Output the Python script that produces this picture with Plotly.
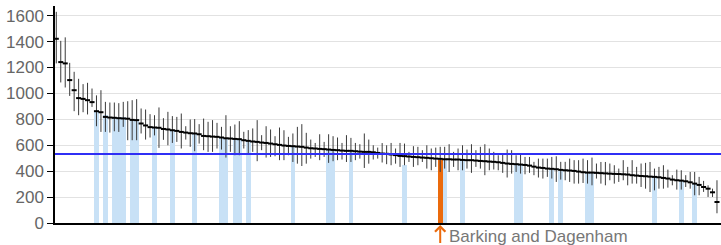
import numpy as np
import plotly.graph_objects as go

# ---- data ----
values = [
    1422, 1242, 1232, 1103, 1025, 964, 958, 948, 933, 863,
    855, 819, 814, 812, 809, 807, 805, 796, 794, 768,
    753, 740, 737, 735, 726, 722, 716, 711, 703, 698,
    693, 691, 685, 672, 670, 667, 665, 660, 654, 652,
    649, 647, 639, 634, 629, 626, 621, 618, 613, 608,
    603, 598, 595, 593, 590, 588, 582, 577, 575, 572,
    570, 567, 564, 562, 559, 557, 557, 554, 551, 549,
    549, 546, 541, 536, 534, 529, 524, 518, 516, 513,
    510, 508, 505, 503, 500, 497, 495, 492, 492, 490,
    490, 487, 485, 485, 482, 479, 477, 474, 472, 469,
    464, 459, 456, 454, 451, 448, 443, 435, 428, 425,
    420, 418, 415, 410, 407, 405, 402, 397, 392, 389,
    389, 387, 385, 383, 381, 379, 378, 376, 374, 369,
    366, 363, 361, 358, 356, 353, 348, 343, 335, 330,
    327, 322, 314, 304, 294, 278, 265, 237, 162,
]
upper = [
    1630, 1406, 1433, 1236, 1167, 1113, 1072, 1082, 1038, 985,
    1025, 935, 930, 930, 925, 935, 940, 948, 956, 884,
    876, 840, 832, 892, 809, 858, 825, 819, 845, 747,
    799, 802, 763, 806, 781, 794, 773, 742, 832, 747,
    760, 786, 704, 717, 730, 794, 678, 747, 722, 670,
    737, 716, 665, 691, 742, 763, 696, 644, 618, 685,
    626, 685, 670, 660, 618, 678, 657, 618, 608, 691,
    644, 600, 582, 617, 600, 618, 575, 618, 613, 549,
    593, 588, 562, 600, 575, 582, 588, 588, 608, 549,
    575, 600, 567, 608, 562, 588, 608, 575, 549, 523,
    536, 567, 562, 523, 536, 510, 510, 472, 497, 497,
    497, 510, 515, 472, 472, 497, 485, 485, 497, 485,
    505, 459, 471, 471, 459, 446, 420, 485, 433, 485,
    433, 459, 464, 471, 420, 433, 446, 412, 369, 412,
    407, 369, 394, 394, 356, 325, 291, 265, 330,
]
lower = [
    1232, 1085, 1046, 981, 863, 832, 855, 838, 896, 747,
    703, 703, 698, 708, 703, 742, 639, 639, 639, 691,
    644, 660, 676, 580, 642, 600, 618, 626, 575, 644,
    588, 554, 613, 562, 549, 549, 575, 567, 505, 549,
    523, 523, 575, 536, 549, 477, 562, 505, 510, 515,
    485, 485, 523, 471, 458, 440, 458, 497, 510, 485,
    510, 464, 477, 485, 490, 471, 471, 485, 497, 425,
    458, 490, 497, 467, 454, 446, 458, 433, 446, 471,
    433, 446, 471, 420, 407, 433, 394, 420, 394, 433,
    407, 407, 420, 387, 433, 420, 369, 407, 413, 407,
    387, 351, 381, 394, 381, 376, 387, 369, 351, 343,
    356, 343, 317, 335, 330, 317, 304, 304, 309, 304,
    291, 343, 304, 291, 330, 304, 317, 330, 291, 304,
    304, 278, 265, 239, 252, 265, 265, 273, 291, 258,
    258, 278, 265, 214, 214, 240, 201, 201, 75,
]
highlight_idx = [9, 11, 13, 14, 15, 17, 18, 22, 26, 31, 37, 38, 40, 41, 43,
                 53, 61, 62, 66, 78, 87, 91, 103, 104, 111, 113, 119, 120,
                 134, 140, 143]
highlight_val = [866, 830, 819, 819, 815, 801, 799, 742, 716, 691, 660, 654,
                 649, 647, 634, 593, 567, 564, 545, 445, 488, 485, 452, 448,
                 412, 400, 385, 385, 356, 328, 302]
focus_name = "Barking and Dagenham"
focus_idx = 86
focus_val = 490
england_avg = 533
y_ticks = [0, 200, 400, 600, 800, 1000, 1200, 1400, 1600]

# ---- figure ----
x = np.arange(len(values))
v = np.array(values, dtype=float)
err_plus = np.array(upper, dtype=float) - v
err_minus = v - np.array(lower, dtype=float)

fig = go.Figure()
fig.add_bar(x=highlight_idx, y=highlight_val, width=1.05,
            marker=dict(color="#c8e1f6", line=dict(width=0)), hoverinfo="skip")
fig.add_bar(x=[focus_idx], y=[focus_val], width=1.05, name=focus_name,
            marker=dict(color="#eb6a0c", line=dict(width=0)))
fig.add_scatter(
    x=x, y=v, mode="markers",
    marker=dict(symbol="line-ew", size=3.6, color="black",
                line=dict(width=2, color="black")),
    error_y=dict(type="data", array=err_plus, arrayminus=err_minus,
                 color="#3a3a3a", thickness=1, width=0),
)

fig.add_shape(type="line", xref="paper", x0=0, x1=1, yref="y",
              y0=england_avg, y1=england_avg,
              line=dict(color="#2f2ff5", width=2), layer="above")

# arrow
fig.add_annotation(x=focus_idx, y=0, xref="x", yref="y", text=" ",
                   font=dict(size=1), showarrow=True, ax=0, ay=23,
                   arrowhead=4, arrowsize=1, arrowwidth=2,
                   arrowcolor="#eb6a0c", standoff=2)
# label
fig.add_annotation(x=focus_idx, y=0, xref="x", yref="y", text=focus_name,
                   showarrow=False, xanchor="left", yanchor="top",
                   xshift=7, yshift=-2,
                   font=dict(size=17, color="#777777",
                             family="Liberation Sans, Arial, sans-serif"))

fig.update_layout(
    template="none",
    width=721, height=245,
    margin=dict(l=55, r=0, t=6, b=22, pad=0, autoexpand=False),
    plot_bgcolor="white", paper_bgcolor="white",
    showlegend=False, barmode="overlay", bargap=0,
    font=dict(family="Liberation Sans, Arial, sans-serif"),
    xaxis=dict(range=[-0.29, 148.9], showgrid=False, zeroline=False,
               showline=True, linecolor="black", linewidth=1.5,
               ticks="", showticklabels=False, fixedrange=True,
               automargin=False),
    yaxis=dict(range=[0, 1675], tickvals=y_ticks, showgrid=True,
               gridcolor="#e2e2e2", gridwidth=1, zeroline=False,
               showline=True, linecolor="black", linewidth=1.5,
               ticks="outside", ticklen=6, tickcolor="black", tickwidth=1,
               tickfont=dict(size=17, color="#666666"), fixedrange=True,
               automargin=False),
)

fig.write_html(
    "out.html",
    config={"displayModeBar": False},
    post_script="document.body.style.margin='0';document.body.style.padding='0';document.body.style.overflow='hidden';",
)
